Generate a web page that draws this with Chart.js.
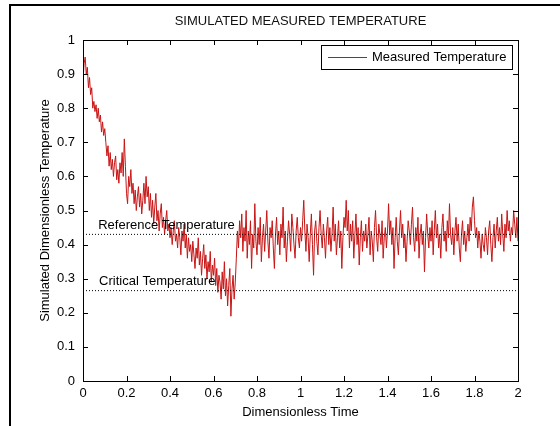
<!DOCTYPE html>
<html>
<head>
<meta charset="utf-8">
<title>Simulated Measured Temperature</title>
<script src="https://cdn.jsdelivr.net/npm/chart.js@4.4.1/dist/chart.umd.min.js"></script>
<style>
  html, body { margin: 0; padding: 0; background: #fff; }
  canvas { display: block; }
</style>
</head>
<body>
<canvas id="tempChart" width="560" height="426"></canvas>
<script>
// --- data (dt = 0.005, t = 0 .. 2) ---
const TIME_STEP = 0.005;
const measuredTemp = [
  0.88,0.93,0.95,0.90,0.92,0.86,0.89,0.84,0.86,0.80,0.82,0.79,0.81,0.77,0.80,0.76,0.78,0.73,0.76,0.72,0.74,
  0.70,0.66,0.69,0.63,0.67,0.62,0.65,0.60,0.64,0.66,0.59,0.62,0.58,0.64,0.61,0.67,0.60,0.71,0.63,0.55,
  0.52,0.60,0.57,0.62,0.55,0.58,0.52,0.56,0.50,0.54,0.57,0.51,0.55,0.49,0.53,0.58,0.52,0.60,0.54,0.57,
  0.50,0.55,0.48,0.53,0.46,0.51,0.55,0.47,0.50,0.44,0.49,0.52,0.45,0.48,0.43,0.47,0.50,0.44,0.46,0.42,
  0.45,0.40,0.44,0.47,0.41,0.43,0.39,0.45,0.42,0.37,0.44,0.41,0.46,0.39,0.43,0.36,0.42,0.38,0.40,0.35,
  0.41,0.37,0.33,0.39,0.36,0.42,0.34,0.38,0.31,0.36,0.40,0.33,0.37,0.30,0.35,0.32,0.38,0.29,0.34,0.31,
  0.36,0.28,0.33,0.26,0.31,0.29,0.24,0.32,0.27,0.35,0.25,0.30,0.22,0.28,0.33,0.19,0.27,0.31,0.24,0.29,
  0.36,0.44,0.39,0.47,0.42,0.49,0.38,0.45,0.41,0.50,0.36,0.44,0.40,0.47,0.33,0.43,0.39,0.52,0.41,0.37,
  0.45,0.40,0.48,0.35,0.42,0.46,0.38,0.44,0.50,0.41,0.36,0.45,0.42,0.47,0.39,0.33,0.43,0.48,0.40,0.44,
  0.37,0.46,0.42,0.51,0.39,0.44,0.35,0.41,0.47,0.43,0.38,0.49,0.45,0.40,0.36,0.44,0.48,0.42,0.39,0.45,
  0.41,0.47,0.53,0.44,0.38,0.46,0.42,0.35,0.43,0.49,0.40,0.31,0.44,0.47,0.41,0.37,0.45,0.50,0.43,0.39,
  0.46,0.42,0.36,0.44,0.48,0.40,0.45,0.38,0.43,0.51,0.41,0.46,0.37,0.42,0.47,0.39,0.44,0.33,0.42,0.48,
  0.45,0.53,0.44,0.50,0.39,0.46,0.41,0.47,0.36,0.43,0.49,0.40,0.45,0.34,0.42,0.47,0.38,0.44,0.41,0.46,
  0.39,0.43,0.48,0.37,0.44,0.41,0.35,0.45,0.50,0.42,0.38,0.46,0.43,0.40,0.47,0.36,0.42,0.45,0.39,0.44,
  0.52,0.43,0.47,0.40,0.45,0.33,0.42,0.48,0.41,0.37,0.44,0.50,0.42,0.46,0.39,0.43,0.35,0.41,0.47,0.44,
  0.40,0.46,0.51,0.42,0.38,0.45,0.41,0.48,0.36,0.43,0.46,0.40,0.44,0.32,0.42,0.49,0.43,0.39,0.45,0.41,
  0.47,0.37,0.44,0.50,0.42,0.46,0.39,0.43,0.36,0.45,0.49,0.41,0.44,0.38,0.47,0.42,0.52,0.43,0.40,0.45,
  0.37,0.44,0.48,0.41,0.46,0.39,0.35,0.43,0.47,0.40,0.44,0.38,0.42,0.46,0.41,0.48,0.44,0.51,0.54,0.47,
  0.42,0.45,0.39,0.44,0.41,0.36,0.43,0.40,0.38,0.45,0.42,0.37,0.44,0.47,0.40,0.35,0.42,0.46,0.39,0.44,
  0.48,0.41,0.45,0.40,0.49,0.43,0.38,0.46,0.42,0.50,0.44,0.47,0.41,0.45,0.43,0.50,0.46,0.42,0.48,0.41
];
const referenceTemp = 0.43;
const criticalTemp = 0.265;
const xRange = [0, 2];
const yRange = [0, 1];
const xTickStep = 0.2;
const yTickStep = 0.1;

const FONT = "'Liberation Sans', Arial, sans-serif";
const RED = '#c81414';

const measuredPoints = measuredTemp.map((v, i) => ({ x: i * TIME_STEP, y: v }));
const refLine = xRange.map(x => ({ x: x, y: referenceTemp }));
const critLine = xRange.map(x => ({ x: x, y: criticalTemp }));

const fmt = v => String(Math.round(v * 10) / 10);

// frame, box, inward ticks, title, legend and line labels (matlab look)
const matlabDecor = {
  id: 'matlabDecor',
  beforeDraw(chart) {
    const ctx = chart.ctx;
    ctx.save();
    ctx.strokeStyle = '#000';
    ctx.lineWidth = 2;
    ctx.beginPath();
    ctx.moveTo(10, 426);
    ctx.lineTo(10, 5);
    ctx.lineTo(560, 5);
    ctx.stroke();
    ctx.restore();
  },
  afterDraw(chart) {
    const ctx = chart.ctx;
    const a = chart.chartArea;
    const xs = chart.scales.x, ys = chart.scales.y;
    ctx.save();
    ctx.strokeStyle = '#000';
    ctx.lineWidth = 1;
    ctx.strokeRect(Math.round(a.left) + 0.5, Math.round(a.top) + 0.5,
                   Math.round(a.right - a.left), Math.round(a.bottom - a.top));
    // inward ticks
    ctx.beginPath();
    xs.ticks.forEach(t => {
      const px = Math.round(xs.getPixelForValue(t.value)) + 0.5;
      ctx.moveTo(px, a.bottom); ctx.lineTo(px, a.bottom - 5);
      ctx.moveTo(px, a.top); ctx.lineTo(px, a.top + 5);
    });
    ys.ticks.forEach(t => {
      const py = Math.round(ys.getPixelForValue(t.value)) + 0.5;
      ctx.moveTo(a.left, py); ctx.lineTo(a.left + 5, py);
      ctx.moveTo(a.right, py); ctx.lineTo(a.right - 5, py);
    });
    ctx.stroke();

    // title
    ctx.fillStyle = '#111';
    ctx.font = '13px ' + FONT;
    ctx.textAlign = 'center';
    ctx.textBaseline = 'middle';
    ctx.fillText('SIMULATED MEASURED TEMPERATURE', (a.left + a.right) / 2, 21);

    // line labels
    ctx.textAlign = 'left';
    ctx.fillStyle = '#000';
    ctx.fillText('Reference Temperature', xs.getPixelForValue(0.07), ys.getPixelForValue(0.457));
    ctx.fillText('Critical Temperature', xs.getPixelForValue(0.074), ys.getPixelForValue(0.293));

    // legend
    ctx.fillStyle = '#fff';
    ctx.fillRect(321, 45, 191, 24);
    ctx.strokeRect(321.5, 45.5, 191, 24);
    ctx.strokeStyle = RED;
    ctx.beginPath();
    ctx.moveTo(328, 57.5); ctx.lineTo(367, 57.5);
    ctx.stroke();
    ctx.fillStyle = '#000';
    ctx.fillText('Measured Temperature', 372, 57);
    ctx.restore();
  }
};

new Chart(document.getElementById('tempChart').getContext('2d'), {
  type: 'line',
  data: {
    datasets: [
      { label: 'Reference Temperature', data: refLine, borderColor: '#000', borderWidth: 1,
        borderDash: [1, 2], pointRadius: 0, order: 0 },
      { label: 'Critical Temperature', data: critLine, borderColor: '#000', borderWidth: 1,
        borderDash: [1, 2], pointRadius: 0, order: 0 },
      { label: 'Measured Temperature', data: measuredPoints, borderColor: RED, borderWidth: 1,
        pointRadius: 0, tension: 0, order: 1 }
    ]
  },
  options: {
    responsive: false,
    animation: false,
    layout: { padding: { top: 40, right: 42, left: 0, bottom: 0 } },
    plugins: {
      legend: { display: false },
      tooltip: { enabled: false }
    },
    scales: {
      x: {
        type: 'linear',
        min: xRange[0], max: xRange[1],
        afterFit: s => { s.height = 45; },
        grid: { display: false, drawTicks: false },
        border: { display: false },
        ticks: { stepSize: xTickStep, padding: 5, color: '#000', font: { family: FONT, size: 13 },
                 callback: fmt, maxRotation: 0, autoSkip: false },
        title: { display: true, text: 'Dimensionless Time', color: '#000',
                 font: { family: FONT, size: 13 }, padding: { top: 0, bottom: 6 } }
      },
      y: {
        min: yRange[0], max: yRange[1],
        afterFit: s => { s.width = 83; },
        grid: { display: false, drawTicks: false },
        border: { display: false },
        ticks: { stepSize: yTickStep, padding: 8, color: '#000', font: { family: FONT, size: 13 },
                 callback: fmt, autoSkip: false },
        title: { display: true, text: 'Simulated Dimensionless Temperature', color: '#000',
                 font: { family: FONT, size: 13 }, padding: { top: 38, bottom: 0 } }
      }
    }
  },
  plugins: [matlabDecor]
});
</script>
</body>
</html>
